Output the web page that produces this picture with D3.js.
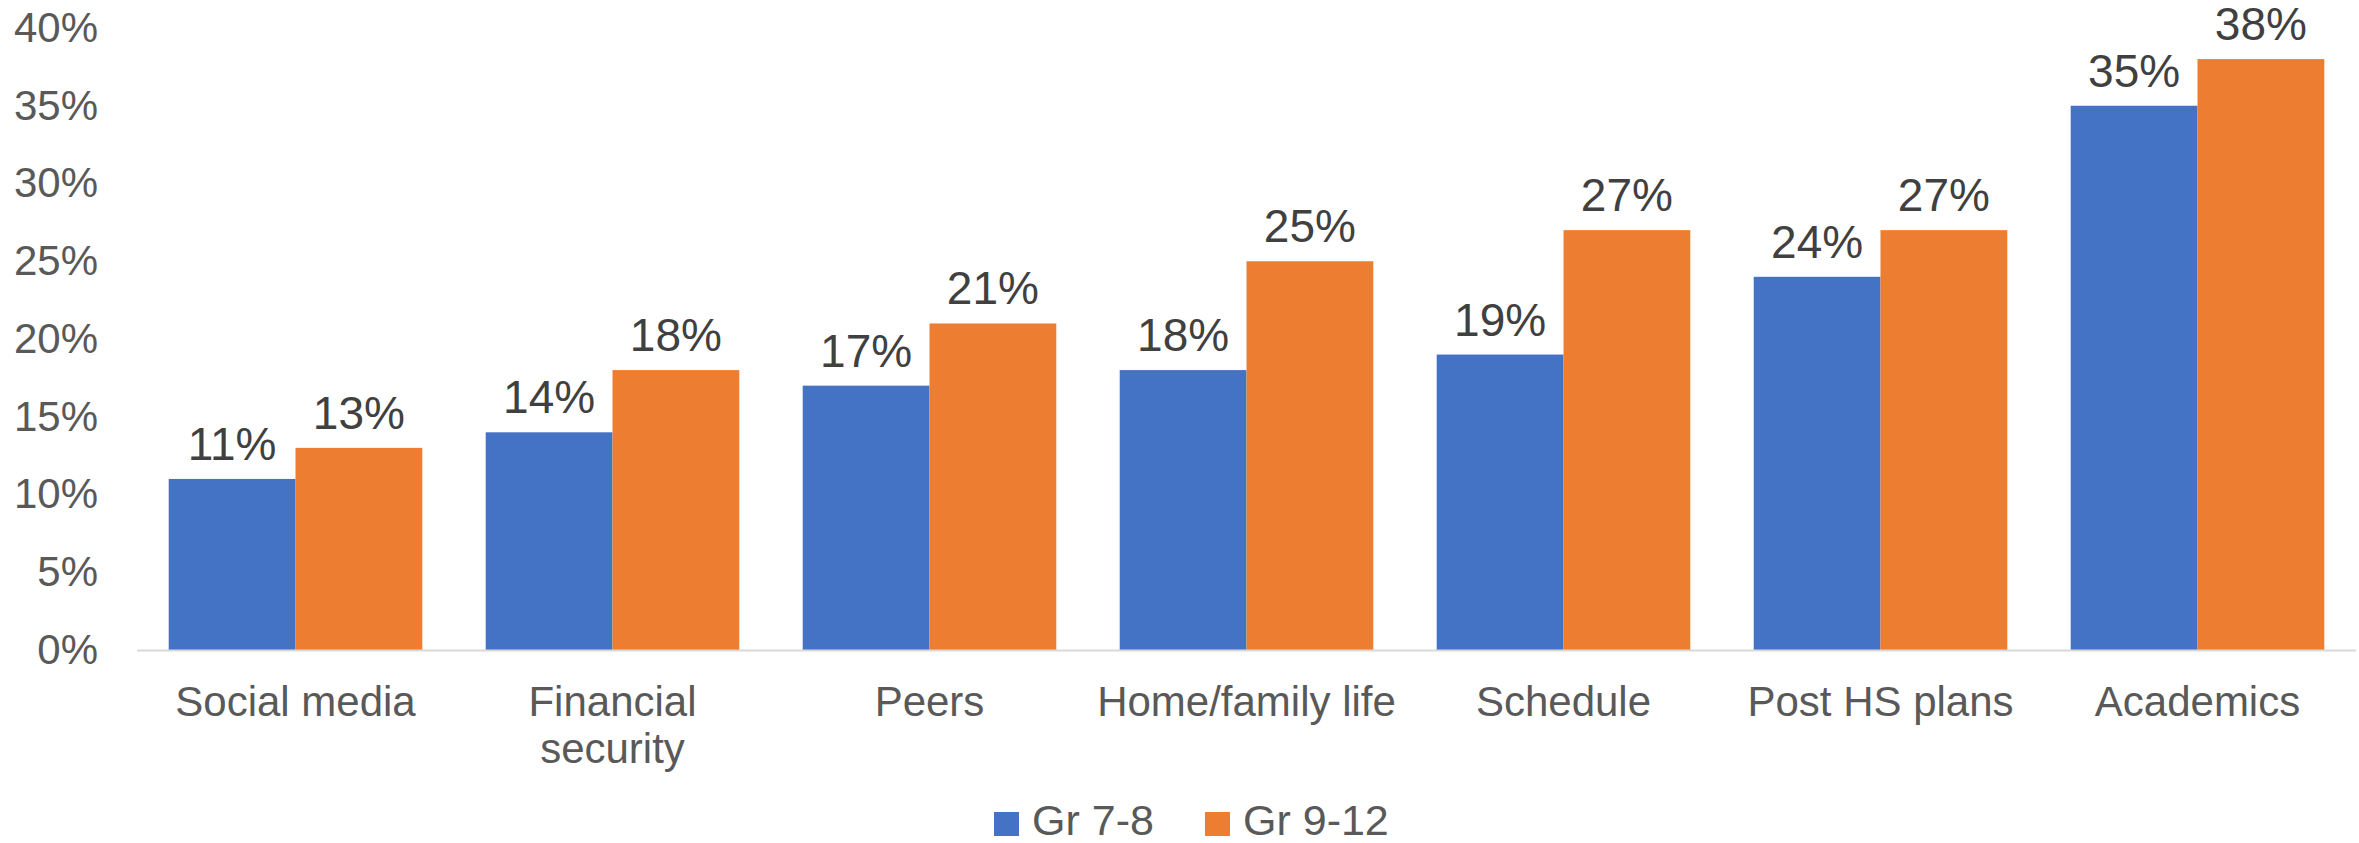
<!DOCTYPE html>
<html>
<head>
<meta charset="utf-8">
<script src="https://cdn.jsdelivr.net/npm/d3@7"></script>
<style>
  body { margin: 0; background: #fff; }
  svg { display: block; font-family: "Liberation Sans", Arial, sans-serif; }
</style>
</head>
<body>
<svg id="chart"></svg>
<script>
// data
const categories = [["Social media"], ["Financial", "security"], ["Peers"], ["Home/family life"], ["Schedule"], ["Post HS plans"], ["Academics"]];
const seriesNames = ["Gr 7-8", "Gr 9-12"];
const gr78 = [11, 14, 17, 18, 19, 24, 35];
const gr912 = [13, 18, 21, 25, 27, 27, 38];
const yTicks = [0, 5, 10, 15, 20, 25, 30, 35, 40];
const colors = ["#4472C4", "#ED7D31"];

const width = 2359, height = 843;
const margin = {top: 28, right: 3, bottom: 193, left: 137};
const innerW = width - margin.left - margin.right;
const innerH = height - margin.top - margin.bottom;

const svg = d3.select("#chart").attr("width", width).attr("height", height);
const chart = svg.append("g").attr("transform", `translate(${margin.left},${margin.top})`);

const keys = categories.map(c => c.join(" "));
const rows = keys.map((k, i) => ({key: k, lines: categories[i], vals: [gr78[i], gr912[i]]}));

const x0 = d3.scaleBand().domain(keys).range([0, innerW]).paddingInner(0.2).paddingOuter(0.1);
const x1 = d3.scaleBand().domain([0, 1]).range([0, x0.bandwidth()]);
const y = d3.scaleLinear().domain([0, 40]).range([innerH, 0]);

// y axis labels
const yaxis = d3.axisLeft(y).tickValues(yTicks).tickFormat(d => d + "%").tickSize(0).tickPadding(39);
const yg = chart.append("g").call(yaxis);
yg.select(".domain").remove();
yg.selectAll("text").attr("font-size", 42).attr("fill", "#595959").attr("font-family", "Liberation Sans, Arial, sans-serif");

// bars
const groups = chart.selectAll(".grp").data(rows).join("g")
  .attr("class", "grp")
  .attr("transform", d => `translate(${x0(d.key)},0)`);

groups.selectAll("rect").data(d => d.vals.map((v, j) => ({v, j}))).join("rect")
  .attr("x", d => x1(d.j))
  .attr("y", d => y(d.v))
  .attr("width", x1.bandwidth())
  .attr("height", d => innerH - y(d.v))
  .attr("fill", d => colors[d.j]);

groups.selectAll("text.lbl").data(d => d.vals.map((v, j) => ({v, j}))).join("text")
  .attr("class", "lbl")
  .attr("x", d => x1(d.j) + x1.bandwidth() / 2)
  .attr("y", d => y(d.v) - 19)
  .attr("text-anchor", "middle")
  .attr("font-size", 46)
  .attr("fill", "#404040")
  .text(d => d.v + "%");

// x axis
const xg = chart.append("g").attr("transform", `translate(0,${innerH})`);
xg.append("line").attr("x1", 0).attr("x2", innerW).attr("y1", 0.5).attr("y2", 0.5)
  .attr("stroke", "#d9d9d9").attr("stroke-width", 2);

xg.selectAll("text").data(rows).join("text")
  .attr("x", d => x0(d.key) + x0.bandwidth() / 2)
  .attr("y", 66)
  .attr("text-anchor", "middle")
  .attr("font-size", 42)
  .attr("fill", "#595959")
  .selectAll("tspan").data(d => d.lines).join("tspan")
  .attr("x", function() { return d3.select(this.parentNode).attr("x"); })
  .attr("dy", (d, i) => i === 0 ? 0 : 47)
  .text(d => d);

// legend
const legend = svg.append("g");
const legX = [994, 1205];
seriesNames.forEach((name, i) => {
  legend.append("rect").attr("x", legX[i]).attr("y", 812).attr("width", 25).attr("height", 24).attr("fill", colors[i]);
  legend.append("text").attr("x", legX[i] + 38).attr("y", 835)
    .attr("font-size", 43).attr("fill", "#595959").text(name);
});
</script>
</body>
</html>
